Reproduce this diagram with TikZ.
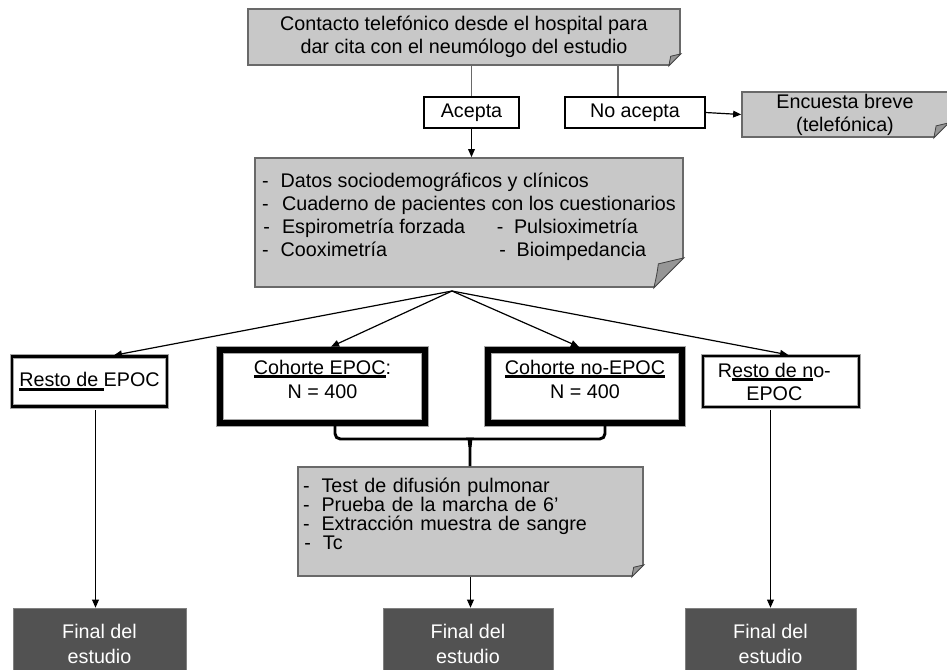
\documentclass[tikz,border=0pt]{standalone}
\usepackage{fontspec}
\setmainfont{Liberation Sans}
\usetikzlibrary{arrows.meta,calc}
\definecolor{boxgray}{RGB}{200,200,200}
\definecolor{edgegray}{RGB}{105,105,105}
\definecolor{endgray}{RGB}{82,82,82}
\definecolor{flapgray}{RGB}{150,150,150}
\newcommand\ulbar[1]{\setbox0\hbox{#1}\rlap{\rule[-2.8pt]{\wd0}{2pt}}\box0}
% folded corner at the south east of a box, size in px
\newcommand\dogear[2]{%
  \fill[white] ($(#1.south east)+(-#2,0)$) -- ($(#1.south east)+(1,1)$) -- ($(#1.south east)+(0,-#2)$) -- cycle;
  \filldraw[fill=flapgray, draw=black!75, line width=0.6pt]
    ($(#1.south east)+(-#2,0)$) .. controls ($(#1.south east)+(-0.9*#2,-0.45*#2)$) .. ($(#1.south east)+(-0.85*#2,-0.8*#2)$)
    -- ($(#1.south east)+(0,-#2)$) -- cycle;
}
\begin{document}
\begin{tikzpicture}[x=0.75pt,y=-0.75pt,
every node/.style={font=\fontsize{14.8}{17.25}\selectfont},
graybox/.style={rectangle, draw=edgegray, line width=1.3pt, fill=boxgray, inner sep=0pt},
whitebox/.style={rectangle, draw=black, line width=0.8pt, fill=white, inner sep=0pt},
restobox/.style={rectangle, draw=gray!70, double=black, double distance=2pt, line width=0.7pt, fill=white, inner sep=0pt, align=center},
cohortbox/.style={rectangle, draw=gray!70, double=black, double distance=4.5pt, line width=0.8pt, fill=white, inner sep=0pt, align=center, font=\fontsize{14.8}{18}\selectfont},
endbox/.style={rectangle, draw=black!50, fill=endgray, text=white, inner sep=0pt, align=center, font=\fontsize{14.8}{18.75}\selectfont},
line/.style={draw=edgegray, line width=1.2pt},
arr/.style={draw=black, line width=0.9pt, -{Triangle[length=6pt,width=5pt]}},
brace/.style={draw=black, line width=2.2pt}
]
    \path[use as bounding box, clip] (0,0) rectangle (947,669);

    \node [graybox, minimum width=324pt, minimum height=42pt, align=center] (contact) at (464,37)
      {Contacto telefónico desde el hospital para\\dar cita con el neumólogo del estudio};

    \node [whitebox, minimum width=71.25pt, minimum height=23.25pt] (acepta) at (471.5,112.5) {Acepta};
    \node [whitebox, minimum width=105pt, minimum height=23.25pt] (noacepta) at (635,112.5) {No acepta};
    \node [graybox, minimum width=154.5pt, minimum height=33.75pt, align=center] (encuesta) at (845,114.5)
      {Encuesta breve\\(telefónica)};

    \node [graybox, minimum width=321pt, minimum height=96.75pt] (datos) at (469,222.5) {%
      \begin{tabular}{@{}l@{}l@{}}
      \multicolumn{2}{@{}l@{}}{-\hspace{9pt}Datos sociodemográficos y clínicos}\\
      \multicolumn{2}{@{}l@{}}{-\hspace{10pt}Cuaderno de pacientes con los cuestionarios}\\
      \makebox[176pt][l]{\hspace{1pt}-\hspace{9pt}Espirometría forzada} & -\hspace{8pt}Pulsioximetría\\
      \makebox[176pt][l]{-\hspace{9pt}Cooximetría} & \hspace{2pt}-\hspace{8pt}Bioimpedancia\\[-10pt]
      \mbox{} & \\
      \end{tabular}};

    \node [restobox, minimum width=116.25pt, minimum height=37.5pt] (restoepoc) at (89.5,381.5) {\ulbar{Resto de }EPOC};
    \node [cohortbox, minimum width=153.75pt, minimum height=54.75pt] (cepoc) at (322.5,386.5)
      {\ulbar{Cohorte EPOC}:\\N = 400\\[-6.75pt]\mbox{}};
    \node [cohortbox, minimum width=145.5pt, minimum height=54.75pt] (cnoepoc) at (585,386.5)
      {\ulbar{Cohorte no-EPOC}\\N = 400\\[-6.75pt]\mbox{}};
    \node [restobox, minimum width=117pt, minimum height=38.25pt] (restonoepoc) at (781,381.5)
      {R\ulbar{esto de n}o-\hspace*{10pt}\\EPOC\hspace*{10pt}};

    \node [graybox, minimum height=81.75pt, text width=251.25pt, inner xsep=3.75pt, align=left,
      font=\fontsize{14.8}{14.25}\selectfont] (tests) at (470.5,521.5)
      {-\hspace{9pt}Test de difusión pulmonar\\
       -\hspace{9pt}Prueba de la marcha de 6’\\
       -\hspace{9pt}Extracción muestra de sangre\\
       \hspace{1pt}-\hspace{9pt}Tc\\[-3pt]\mbox{}};

    \node [endbox, minimum width=129.75pt, minimum height=54pt] (fin1) at (99.5,644) {Final del\\estudio};
    \node [endbox, minimum width=127.5pt, minimum height=54pt] (fin2) at (468,644) {Final del\\estudio};
    \node [endbox, minimum width=128.25pt, minimum height=54pt] (fin3) at (770.5,644) {Final del\\estudio};

    \dogear{contact}{12}
    \dogear{encuesta}{15}
    \dogear{datos}{30}
    \dogear{tests}{12}

    % top branch
    \coordinate (na) at ($(noacepta.north)+(-17,0)$);
    \draw [line] (acepta.north |- contact.south) -- (acepta.north);
    \draw [line] (na |- contact.south) -- (na);
    \draw [arr] (noacepta.east) -- (encuesta.west);
    \draw [arr] (acepta.south) -- (acepta.south |- datos.north);

    % four groups
    \coordinate (hub) at (452,291);
    \draw [arr, shorten >=3pt] (hub) -- ($(restoepoc.north)+(20.5,0)$);
    \draw [arr, shorten >=5pt] (hub) -- ($(cepoc.north)+(2.5,0)$);
    \draw [arr, shorten >=5pt] (hub) -- (cnoepoc.north);
    \draw [arr, shorten >=3pt] (hub) -- ($(restonoepoc.north)+(11,0)$);

    % brace joining both cohorts
    \coordinate (bl) at ($(cepoc.south)+(12.5,2)$);
    \coordinate (br) at ($(cnoepoc.south)+(20,2)$);
    \draw [brace, rounded corners=4] (bl) |- (465,439) [sharp corners] .. controls (469,439) .. (470,447) -- (tests.north -| 470,0);
    \draw [brace, rounded corners=4] (br) |- (475,439) [sharp corners] .. controls (471,439) .. (470,447);

    % ends of study
    \coordinate (l1) at ($(restoepoc.south)+(6,3)$);
    \draw [line, draw=black!80, arr] (l1) -- (l1 |- fin1.north);
    \draw [line, draw=black!80, arr] (restonoepoc.south -| fin3.north) ++(0,3) -- (fin3.north);
    \draw [arr] (tests.south) -- (tests.south |- fin2.north);
\end{tikzpicture}
\end{document}
